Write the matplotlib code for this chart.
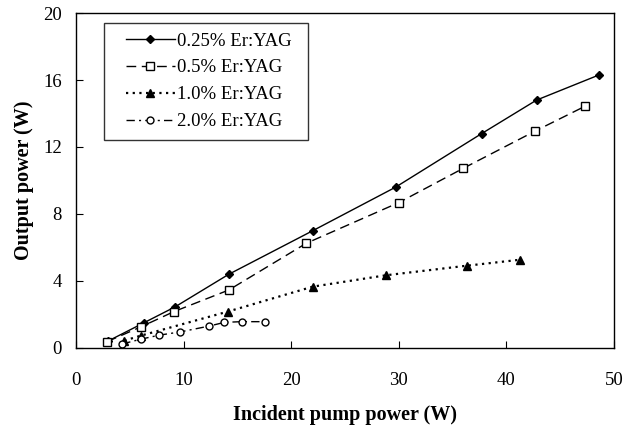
import matplotlib

matplotlib.use("Agg")
import matplotlib.pyplot as plt
from matplotlib.legend_handler import HandlerLine2D
from matplotlib.lines import Line2D

# pump power (W) and output power (W) per doping level
x_025 = [3.0, 6.3, 9.2, 14.2, 22.0, 29.7, 37.7, 42.8, 48.6]
y_025 = [0.42, 1.5, 2.45, 4.4, 7.0, 9.6, 12.8, 14.8, 16.3]

x_05 = [2.9, 6.0, 9.1, 14.2, 21.4, 30.0, 36.0, 42.7, 47.3]
y_05 = [0.38, 1.25, 2.17, 3.46, 6.25, 8.68, 10.73, 12.96, 14.43]

x_10 = [4.5, 6.0, 14.1, 22.0, 28.8, 36.3, 41.3]
y_10 = [0.44, 0.73, 2.17, 3.66, 4.34, 4.91, 5.27]

x_20 = [4.3, 6.0, 7.7, 9.7, 12.4, 13.8, 15.4, 17.6]
y_20 = [0.24, 0.52, 0.76, 0.96, 1.31, 1.53, 1.57, 1.57]

labels = ["0.25% Er:YAG", "0.5% Er:YAG", "1.0% Er:YAG", "2.0% Er:YAG"]

plt.rcParams["font.family"] = ["Liberation Serif", "DejaVu Serif"]

fig = plt.figure(figsize=(6.25, 4.28), dpi=100)
ax = fig.add_axes([0.1216, 0.187, 0.8608, 0.7826])

ax.plot(x_025, y_025, color="black", lw=1.0, ls="-", marker="D", ms=4.5,
        mfc="black", label=labels[0])
ax.plot(x_05, y_05, color="black", lw=1.0, ls=(0, (7, 4)), marker="s", ms=5.5,
        mfc="white", label=labels[1])
ax.plot(x_10, y_10, color="black", lw=1.6, ls=(0, (1, 2)), marker="^", ms=6,
        mfc="black", label=labels[2])
ax.plot(x_20, y_20, color="black", lw=1.0, ls=(0, (6, 3, 1.5, 3)), marker="o",
        ms=5, mfc="white", label=labels[3])

ax.set_xlim(0, 50)
ax.set_ylim(0, 20)
ax.set_xticks(range(0, 51, 10))
ax.set_yticks(range(0, 21, 4))
ax.tick_params(direction="in", length=5, labelsize=13.5, top=False, right=False)
ax.tick_params(axis="x", pad=17)
ax.tick_params(axis="y", pad=10)
for s in ax.spines.values():
    s.set_linewidth(1.0)

ax.set_xlabel("Incident pump power (W)", fontsize=14.5, fontweight="bold", labelpad=12)
ax.set_ylabel("Output power (W)", fontsize=14.5, fontweight="bold", labelpad=7)

# legend box spans roughly 0.052..0.431 of the axes width
leg = ax.legend(loc="upper left", bbox_to_anchor=(0.052, 0.63, 0.379, 0.34),
                mode="expand", fontsize=13.5, handlelength=3.27,
                handler_map={Line2D: HandlerLine2D(xpad=0.67)},
                frameon=True, fancybox=False, edgecolor="black",
                borderpad=0.5, labelspacing=0.52, handletextpad=0.15,
                borderaxespad=0)
leg.get_frame().set_linewidth(1.0)

fig.savefig("out.png", dpi=100)
plt.close(fig)
